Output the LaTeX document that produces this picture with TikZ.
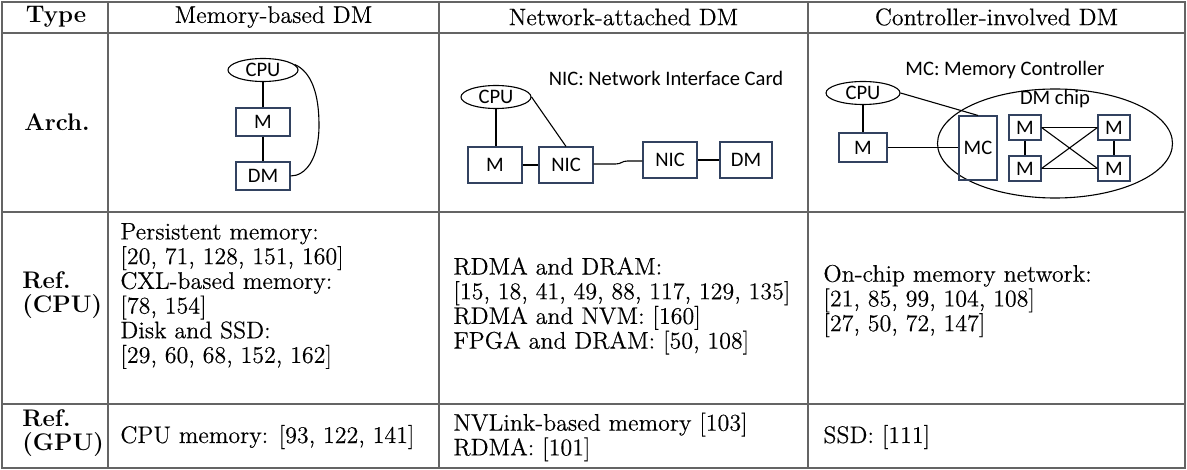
\documentclass[tikz,border=0pt]{standalone}
\usepackage{fontspec}
\newfontfamily\diagfont{Carlito}
\newfontfamily\tabrm{Latin Modern Roman}[FakeBold=0.3]
\usetikzlibrary{shapes.geometric,calc}
\definecolor{gridc}{RGB}{100,100,100}
\definecolor{boxc}{RGB}{50,66,96}
\begin{document}
\begin{tikzpicture}[x=0.5pt,y=-0.5pt,
  tline/.style={draw=gridc,line width=0.75pt},
  cell/.style={inner sep=0pt,font=\tabrm\fontsize{12}{12.35}\selectfont,align=left},
  hcell/.style={inner sep=0pt,font=\tabrm\fontsize{12}{12.35}\selectfont},
  bcell/.style={inner sep=0pt,font=\fontsize{12}{12.35}\selectfont\bfseries,align=left},
  dfont/.style={font=\diagfont\fontsize{10.3}{12}\selectfont},
  bx/.style={draw=boxc,line width=0.55pt,inner sep=0pt,dfont,minimum width=27pt,minimum height=14pt},
  el/.style={draw,ellipse,line width=0.55pt,inner sep=0pt,dfont,minimum width=35pt,minimum height=11.5pt},
  wire/.style={line width=0.55pt}]
\useasboundingbox (0,0) rectangle (1187,470);
\fill[white] (0,0) rectangle (1187,470);
% table grid
\draw[tline] (2,2) rectangle (1185,468);
\foreach \yy in {33,212,404} {\draw[tline] (2,\yy) -- (1185,\yy);}
\foreach \xx in {108,439,808} {\draw[tline] (\xx,2) -- (\xx,468);}
% header
\node[bcell] (hType) at (56,17) {Type};
\node[hcell] (hMem) at (273.5,17) {Memory-based DM};
\node[hcell] (hNet) at (623.5,17) {Network-attached DM};
\node[hcell] (hCtl) at (996.5,17) {Controller-involved DM};
% row labels
\node[bcell] (lArch) at (57,122) {Arch.};
\node[bcell,anchor=west] (lCPU) at (22,295) {Ref.\\(CPU)};
\node[bcell,anchor=west] (lGPU) at (22,433) {Ref.\\(GPU)};
% CPU refs
\node[cell,anchor=west] (tMem) at (120,296) {Persistent memory:\\{}[20, 71, 128, 151, 160]\\CXL-based memory:\\{}[78, 154]\\Disk and SSD:\\{}[29, 60, 68, 152, 162]};
\node[cell,anchor=west] (tNet) at (453,306) {RDMA and DRAM:\\{}[15, 18, 41, 49, 88, 117, 129, 135]\\RDMA and NVM: [160]\\FPGA and DRAM: [50, 108]};
\node[cell,anchor=west] (tCtl) at (823,301) {On-chip memory network:\\{}[21, 85, 99, 104, 108]\\{}[27, 50, 72, 147]};
% GPU refs
\node[cell,anchor=west] (gMem) at (120,437) {CPU memory: [93, 122, 141]};
\node[cell,anchor=west] (gNet) at (453,437) {NVLink-based memory [103]\\RDMA: [101]};
\node[cell,anchor=west] (gCtl) at (823,437) {SSD: [111]};
% ---- Memory-based diagram
\node[el] (c1) at (263,70) {CPU};
\node[bx] (m1) at (263,122) {M};
\node[bx] (d1) at (263,176) {DM};
\coordinate (k1) at (319,125);
\draw[wire] (c1) -- (m1);
\draw[wire] (m1) -- (d1);
\draw[wire] (c1.10) .. controls (312,72) and (319,95) .. (k1) .. controls (319,160) and (305,176) .. (d1.east);
% ---- Network-attached diagram
\node[dfont,inner sep=0pt] (niclbl) at (666,78) {NIC: Network Interface Card};
\node[el] (c2) at (496,97) {CPU};
\node[bx,minimum height=18pt] (m2) at (495,165) {M};
\node[bx,minimum height=18pt] (n1) at (566,165) {NIC};
\node[bx,minimum height=18pt] (n2) at (670,160) {NIC};
\node[bx,minimum width=26pt,minimum height=18pt] (d2) at (746,160) {DM};
\draw[wire] (c2.south) -- (c2.south |- m2.north);
\draw[wire] (c2.east) -- (n1.north);
\draw[wire] (m2) -- (n1);
\draw[wire] ([yshift=0.5pt]n1.east) -- ++(22,0) .. controls +(6,0) and +(-6,0) .. ++(12,-3) -- ([yshift=-0.5pt]n2.west);
\draw[wire] (n2) -- (d2);
% ---- Controller-involved diagram
\node[dfont,inner sep=0pt] (mclbl) at (1005,70) {MC: Memory Controller};
\node[el,minimum width=37pt] (c3) at (863,93) {CPU};
\node[bx,minimum width=24pt,minimum height=14.5pt] (m3) at (863,147.5) {M};
\node[draw,ellipse,line width=0.55pt,minimum width=117.5pt,minimum height=54.5pt,inner sep=0pt] (chip) at (1055,143.5) {};
\node[dfont,inner sep=0pt] (chiplbl) at (1055,99) {DM chip};
\node[bx,minimum width=19pt,minimum height=32pt] (mc) at (978,148) {MC};
\node[bx,minimum width=16pt,minimum height=12.5pt] (tl) at (1025,127.5) {M};
\node[bx,minimum width=16pt,minimum height=12.5pt] (bl) at (1025,168.5) {M};
\node[bx,minimum width=16pt,minimum height=12.5pt] (tr) at (1114,127.5) {M};
\node[bx,minimum width=16pt,minimum height=12.5pt] (br) at (1114,168.5) {M};
\draw[wire] (c3) -- (m3);
\draw[wire] (c3.east) -- (mc.north);
\draw[wire] (m3.east) -- (m3.east -| mc.west);
\draw[wire] (tl) -- (bl);
\draw[wire] (tr) -- (br);
\draw[wire] (tl) -- (tr);
\draw[wire] (bl) -- (br);
\draw[wire] (tl.east) -- (br.west);
\draw[wire] (bl.east) -- (tr.west);
\end{tikzpicture}
\end{document}
